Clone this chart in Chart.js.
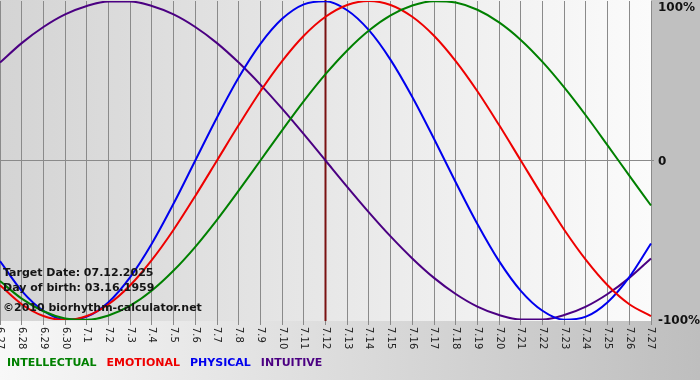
<!DOCTYPE html>
<html><head><meta charset="utf-8">
<style>html,body{margin:0;padding:0;background:#fff;}#wrap{width:700px;height:380px;position:relative;}</style>
<script src="https://cdn.jsdelivr.net/npm/chart.js@4/dist/chart.umd.min.js"></script>
</head><body><div id="wrap"><canvas id="c" width="700" height="380"></canvas></div>
<script>
const dates = ['6.27','6.28','6.29','6.30','7.1','7.2','7.3','7.4','7.5','7.6','7.7','7.8','7.9','7.10','7.11','7.12','7.13','7.14','7.15','7.16','7.17','7.18','7.19','7.20','7.21','7.22','7.23','7.24','7.25','7.26','7.27'];
const intellectual = [-75.6,-86.6,-94.5,-99.0,-99.9,-97.2,-91.0,-81.5,-69.0,-54.1,-37.2,-18.9,0,18.9,37.2,54.1,69.0,81.5,91.0,97.2,99.9,99.0,94.5,86.6,75.6,61.8,45.8,28.2,9.5,-9.5,-28.2];
const emotional = [-78.2,-90.1,-97.5,-100,-97.5,-90.1,-78.2,-62.3,-43.4,-22.2,0,22.2,43.4,62.3,78.2,90.1,97.5,100,97.5,90.1,78.2,62.3,43.4,22.2,0,-22.2,-43.4,-62.3,-78.2,-90.1,-97.5];
const physical = [-63.1,-81.7,-94.2,-99.8,-97.9,-88.8,-73.1,-52.0,-27.0,0,27.0,52.0,73.1,88.8,97.9,99.8,94.2,81.7,63.1,39.8,13.6,-13.6,-39.8,-63.1,-81.7,-94.2,-99.8,-97.9,-88.8,-73.1,-52.0];
const intuitive = [61.4,73.6,83.7,91.6,96.9,99.7,99.7,96.9,91.6,83.7,73.6,61.4,47.6,32.5,16.5,0,-16.5,-32.5,-47.6,-61.4,-73.6,-83.7,-91.6,-96.9,-99.7,-99.7,-96.9,-91.6,-83.7,-73.6,-61.4];
const seriesNames = ['INTELLECTUAL','EMOTIONAL','PHYSICAL','INTUITIVE'];
const seriesColors = ['#008000','#ee0000','#0000ee','#4b0082'];
const yTickValues = [100, 0, -100];
const yTickLabels = ['100%','0','-100%'];
const targetDay = '7.12';
const infoLines = ['Target Date: 07.12.2025','Day of birth: 03.16.1959','\u00A92010 biorhythm-calculator.net'];

const FONT = '"DejaVu Sans", Verdana, sans-serif';

const decor = {
  id: 'decor',
  beforeDraw(chart) {
    const ctx = chart.ctx, a = chart.chartArea, W = chart.width, H = chart.height;
    ctx.save();
    let g = ctx.createLinearGradient(0, 0, W, 0);
    g.addColorStop(0, '#f8f8f8'); g.addColorStop(1, '#bebebe');
    ctx.fillStyle = g; ctx.fillRect(0, 0, W, H);
    ctx.fillStyle = '#c0c0c0'; ctx.fillRect(a.right, 0, W - a.right, a.bottom + 1);
    let g2 = ctx.createLinearGradient(a.left, 0, a.right, 0);
    g2.addColorStop(0, '#d4d4d4'); g2.addColorStop(1, '#fbfbfb');
    ctx.fillStyle = g2; ctx.fillRect(a.left, 0, a.right - a.left, a.bottom + 1);
    ctx.restore();
  },
  beforeDatasetsDraw(chart) {
    const ctx = chart.ctx, a = chart.chartArea, xs = chart.scales.x;
    const x = xs.getPixelForValue(dates.indexOf(targetDay));
    ctx.save();
    ctx.strokeStyle = '#7a1212'; ctx.lineWidth = 2;
    ctx.beginPath(); ctx.moveTo(x, 0); ctx.lineTo(x, a.bottom + 1); ctx.stroke();
    ctx.restore();
  },
  afterDatasetsDraw(chart) {
    const ctx = chart.ctx;
    ctx.save();
    ctx.font = 'bold 11px ' + FONT;
    ctx.fillStyle = '#151515';
    ctx.textAlign = 'left'; ctx.textBaseline = 'alphabetic';
    const ys = [276, 291, 311];
    infoLines.forEach((t, i) => ctx.fillText(t, 3, ys[i]));
    ctx.restore();
  },
  afterDraw(chart) {
    const ctx = chart.ctx, a = chart.chartArea, xs = chart.scales.x, ysc = chart.scales.y;
    ctx.save();
    ctx.font = '10px ' + FONT;
    ctx.fillStyle = '#222';
    ctx.textAlign = 'left'; ctx.textBaseline = 'middle';
    for (let i = 0; i < dates.length; i++) {
      const x = xs.getPixelForTick(i);
      ctx.save();
      ctx.translate(x, a.bottom + 7);
      ctx.rotate(Math.PI / 2);
      ctx.fillText(xs.getLabelForValue(i), 0, 0);
      ctx.restore();
    }
    ctx.font = 'bold 12px ' + FONT;
    ctx.fillStyle = '#111';
    ctx.textBaseline = 'middle';
    yTickValues.forEach((v, i) => {
      let y = ysc.getPixelForValue(v);
      y = Math.max(y, 7);
      ctx.fillText(yTickLabels[i], a.right + 7, y + 1);
    });
    ctx.font = 'bold 11px ' + FONT;
    ctx.textBaseline = 'alphabetic';
    let lx = 7;
    chart.data.datasets.forEach(ds => {
      ctx.fillStyle = ds.borderColor;
      ctx.fillText(ds.label, lx, 366);
      lx += ctx.measureText(ds.label).width + 10;
    });
    ctx.restore();
  }
};

const seriesData = [intellectual, emotional, physical, intuitive];
new Chart(document.getElementById('c'), {
  type: 'line',
  data: {
    labels: dates,
    datasets: seriesNames.map((n, i) => ({
      label: n,
      data: seriesData[i],
      borderColor: seriesColors[i],
      borderWidth: 2,
      pointRadius: 0,
      fill: false,
      cubicInterpolationMode: 'monotone'
    }))
  },
  options: {
    responsive: false,
    devicePixelRatio: 1,
    animation: false,
    layout: { padding: { top: 1, left: 0, right: 0, bottom: 0 } },
    plugins: { legend: { display: false }, tooltip: { enabled: false } },
    scales: {
      x: {
        type: 'category',
        offset: false,
        ticks: { display: false, autoSkip: false },
        grid: { color: '#8a8a8a', lineWidth: 1, tickLength: 5, drawOnChartArea: true },
        border: { display: false },
        afterFit(s) { s.height = 60; }
      },
      y: {
        position: 'right',
        min: -100, max: 100,
        ticks: { display: false, stepSize: 100 },
        grid: {
          color: c => (c.tick && c.tick.value === 0) ? '#8a8a8a' : 'rgba(0,0,0,0)',
          lineWidth: 1, tickLength: 3
        },
        border: { display: false },
        afterFit(s) { s.width = 49; }
      }
    }
  },
  plugins: [decor]
});
</script>
</body></html>
